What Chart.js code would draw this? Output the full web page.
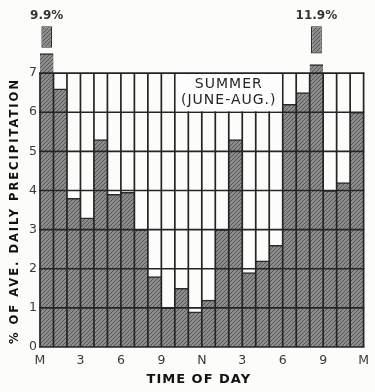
<!DOCTYPE html>
<html><head><meta charset="utf-8">
<script src="https://cdn.jsdelivr.net/npm/chart.js@4"></script>
<style>html,body{margin:0;padding:0;background:#fcfcfb;}canvas{display:block;}</style>
</head><body>
<canvas id="c" width="375" height="392"></canvas>
<script>
// ---- data ----
const hourStart = [0,1,2,3,4,5,6,7,8,9,10,11,12,13,14,15,16,17,18,19,20,21,22,23];
const precip = [9.9,6.6,3.8,3.3,5.3,3.9,3.95,3.0,1.8,1.0,1.5,0.9,1.2,3.0,5.3,1.9,2.2,2.6,6.2,6.5,11.9,4.0,4.2,6.0];
const xTickLabels = ['M','3','6','9','N','3','6','9','M'];
const xTickValues = [0,3,6,9,12,15,18,21,24];
const yTickValues = [0,1,2,3,4,5,6,7];
const panelTitle = ['SUMMER','(JUNE-AUG.)'];
const yTitle = '% OF AVE. DAILY PRECIPITATION';
const xTitle = 'TIME OF DAY';

// ---- styling constants ----
const AXIS_TOP = 7;
const LOWER_CUT = {0: 7.5, 20: 7.22};       // top of lower stub for broken bars
const UPPER_PIECE = {0: [7.65, 8.2], 20: [7.5, 8.2]};
const LABEL_LEVEL = 8.45;
const BOX = {x0: 10, x1: 18, y0: 6, y1: 7};

function hatch(){
  const c=document.createElement('canvas'); c.width=4; c.height=4;
  const g=c.getContext('2d');
  g.fillStyle='#8c8c8c'; g.fillRect(0,0,4,4);
  g.strokeStyle='#555555'; g.lineWidth=1;
  g.beginPath();
  g.moveTo(0,4); g.lineTo(4,0);
  g.moveTo(-1,1); g.lineTo(1,-1);
  g.moveTo(3,5); g.lineTo(5,3);
  g.stroke();
  return g.createPattern(c,'repeat');
}
const ctx0 = document.getElementById('c').getContext('2d');
const pat = hatch();

const mainData = hourStart.map((h,i)=>({x:h+0.5, y: precip[i] > AXIS_TOP ? LOWER_CUT[i] : precip[i]}));
const upperData = hourStart.filter((h,i)=>precip[i] > AXIS_TOP).map(h=>({x:h+0.5, y: UPPER_PIECE[h]}));

const overlay = {
  id:'overlay',
  afterDatasetsDraw(chart){
    const {ctx, scales:{x,y}} = chart;
    ctx.save();
    // grid
    ctx.strokeStyle='#242424'; ctx.lineWidth=1.7;
    ctx.beginPath();
    for(let h=0; h<=24; h++){
      const px=x.getPixelForValue(h);
      ctx.moveTo(px, y.getPixelForValue(0)); ctx.lineTo(px, y.getPixelForValue(AXIS_TOP));
    }
    for(const v of yTickValues){
      const py=y.getPixelForValue(v);
      ctx.moveTo(x.getPixelForValue(0)-1, py); ctx.lineTo(x.getPixelForValue(24)+1, py);
    }
    ctx.stroke();
    // panel title box
    const bx0=x.getPixelForValue(BOX.x0)+1, bx1=x.getPixelForValue(BOX.x1)-1;
    const by0=y.getPixelForValue(BOX.y1)+1, by1=y.getPixelForValue(BOX.y0)-1;
    ctx.fillStyle='#fdfdfd';
    ctx.fillRect(bx0,by0,bx1-bx0,by1-by0);
    ctx.fillStyle='#262626';
    ctx.font='14px "DejaVu Sans"';
    ctx.letterSpacing='1px';
    ctx.textAlign='center'; ctx.textBaseline='middle';
    const cx=(bx0+bx1)/2;
    ctx.fillText(panelTitle[0], cx, by0+10);
    ctx.fillText(panelTitle[1], cx, by0+26);
    // outlier labels
    ctx.font='bold 12px "DejaVu Sans"';
    ctx.letterSpacing='0px';
    ctx.fillStyle='#333';
    precip.forEach((v,i)=>{
      if(v>AXIS_TOP){
        ctx.fillText(v.toFixed(1)+'%', x.getPixelForValue(hourStart[i]+0.5), y.getPixelForValue(LABEL_LEVEL));
      }
    });
    // axis titles
    ctx.fillStyle='#111';
    ctx.font='bold 13px "DejaVu Sans"';
    ctx.letterSpacing='1px';
    ctx.fillText(xTitle, (x.left+x.right)/2-3, 380);
    ctx.save();
    ctx.translate(15, 211);
    ctx.rotate(-Math.PI/2);
    ctx.font='bold 11.5px "DejaVu Sans"';
    ctx.letterSpacing='2px';
    ctx.fillText(yTitle, 0, 0);
    ctx.restore();
    ctx.restore();
  }
};

new Chart(ctx0, {
  type:'bar',
  data:{
    datasets:[
      {data: mainData, backgroundColor: pat, borderColor:'#2a2a2a',
       borderWidth:{top:1.5,left:0,right:0,bottom:0}, borderSkipped:false,
       barPercentage:1, categoryPercentage:1, grouped:false},
      {data: upperData, backgroundColor: pat, borderColor:'#2a2a2a',
       borderWidth:1.2, borderSkipped:false,
       barPercentage:0.8, categoryPercentage:1, grouped:false}
    ]
  },
  options:{
    responsive:false, animation:false, events:[],
    layout:{padding:{top:10,right:7,left:0,bottom:0}},
    plugins:{legend:{display:false}, tooltip:{enabled:false}},
    scales:{
      x:{type:'linear', min:0, max:24, offset:false,
        grid:{display:false, drawTicks:false}, border:{display:false},
        afterBuildTicks:s=>{s.ticks = xTickValues.map(v=>({value:v}));},
        afterFit:s=>{s.height=45;},
        ticks:{padding:6, maxRotation:0, autoSkip:false, color:'#3a3a3a',
          font:{family:'DejaVu Sans', size:12.5},
          callback:(v,i)=>xTickLabels[i]}
      },
      y:{min:0, max:8.6,
        grid:{display:false, drawTicks:false}, border:{display:false},
        afterBuildTicks:s=>{s.ticks = yTickValues.map(v=>({value:v}));},
        afterFit:s=>{s.width=40;},
        ticks:{padding:3, color:'#3a3a3a', font:{family:'DejaVu Sans', size:12.5},
          callback:(v)=>String(v)}
      }
    }
  },
  plugins:[overlay]
});
</script>
</body></html>
